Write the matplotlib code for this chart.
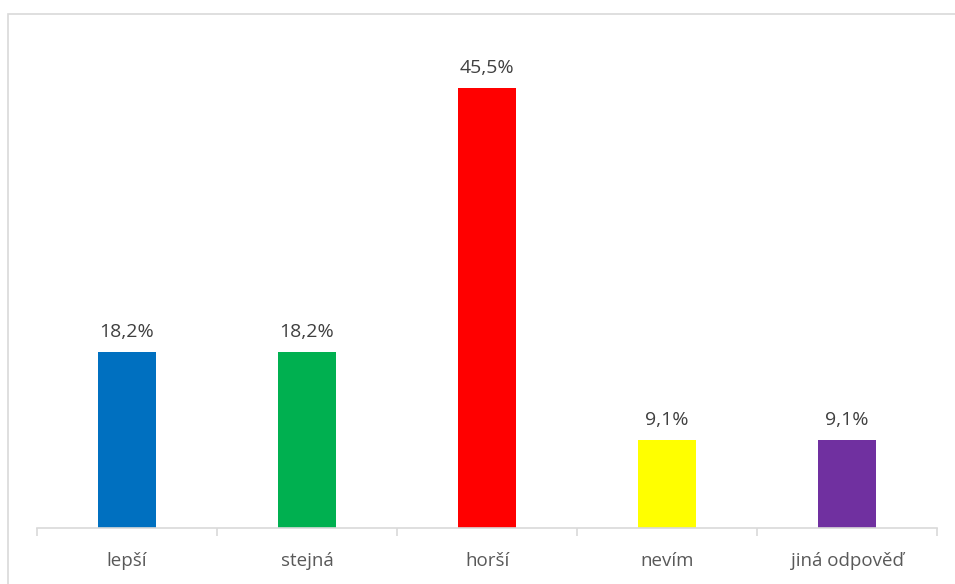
import matplotlib.pyplot as plt
from matplotlib.patches import Rectangle

categories = ["lepší", "stejná", "horší", "nevím", "jiná odpověď"]
values = [18.2, 18.2, 45.5, 9.1, 9.1]
colors = ["#0070c0", "#00b050", "#ff0000", "#ffff00", "#7030a0"]

plt.rcParams['font.family'] = ['Open Sans', 'DejaVu Sans']

W, H = 955, 584
fig = plt.figure(figsize=(W / 100, H / 100), dpi=100)

# light frame of the chart area (cut off at right and bottom)
fig.patches.append(Rectangle((8 / W, -0.1), 1.2, 1.1 - 14 / H, transform=fig.transFigure,
                             fill=False, edgecolor="#d9d9d9", linewidth=1.2))

ax = fig.add_axes([37 / W, 56 / H, 900 / W, 483.5 / H])
x = range(len(categories))
ax.bar(x, values, width=0.32, color=colors)
ax.set_xlim(-0.5, len(categories) - 0.5)
ax.set_ylim(0, 50)

for xi, v in zip(x, values):
    ax.annotate(f"{v:.1f}%".replace(".", ","), (xi, v), xytext=(0, 8),
                textcoords="offset points", ha="center", va="bottom",
                fontsize=14, color="#404040")

for s in ["top", "right", "left"]:
    ax.spines[s].set_visible(False)
ax.spines["bottom"].set_color("#d9d9d9")
ax.spines["bottom"].set_linewidth(1.2)
ax.set_yticks([])

ax.set_xticks(x)
ax.set_xticklabels(categories, fontsize=13.5, color="#595959")
ax.tick_params(axis="x", length=0, pad=17)
ax.set_xticks([i - 0.5 for i in range(len(categories) + 1)], minor=True)
ax.tick_params(axis="x", which="minor", length=6, color="#d9d9d9", width=1.2)

fig.savefig("out.png", dpi=100)
